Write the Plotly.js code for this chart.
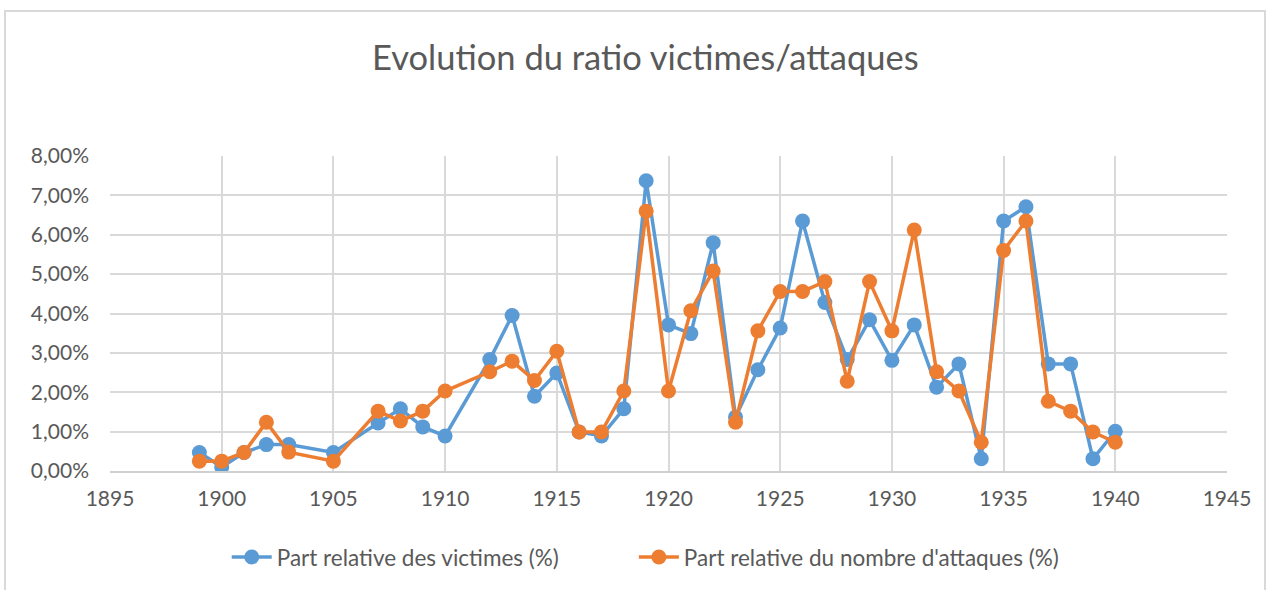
<!DOCTYPE html>
<html>
<head>
<meta charset="utf-8">
<script src="https://cdn.plot.ly/plotly-3.0.1.min.js"></script>
<style>
  html, body { margin: 0; padding: 0; background: #fff; }
  #chart { position: absolute; left: 0; top: 0; width: 1268px; height: 590px; }
  #frame { position: absolute; left: 4px; top: 10px; width: 1262px; height: 590px;
           border: 2px solid #d9d9d9; box-sizing: border-box; pointer-events: none; }
</style>
</head>
<body>
<div id="chart"></div>
<div id="frame"></div>
<script>
// Years (1904, 1906, 1911 absent)
const years = [1899, 1900, 1901, 1902, 1903, 1905, 1907, 1908, 1909, 1910,
               1912, 1913, 1914, 1915, 1916, 1917, 1918, 1919, 1920, 1921,
               1922, 1923, 1924, 1925, 1926, 1927, 1928, 1929, 1930, 1931,
               1932, 1933, 1934, 1935, 1936, 1937, 1938, 1939, 1940];

// Part relative des victimes (%)
const victimes = [0.47, 0.10, 0.47, 0.67, 0.67, 0.47, 1.22, 1.58, 1.12, 0.89,
                  2.83, 3.95, 1.90, 2.49, 0.99, 0.89, 1.58, 7.37, 3.71, 3.49,
                  5.80, 1.37, 2.57, 3.63, 6.35, 4.28, 2.83, 3.84, 2.81, 3.71,
                  2.13, 2.72, 0.31, 6.35, 6.71, 2.72, 2.72, 0.31, 1.01];

// Part relative du nombre d'attaques (%)
const attaques = [0.25, 0.25, 0.47, 1.24, 0.48, 0.25, 1.52, 1.27, 1.52, 2.03,
                  2.52, 2.79, 2.30, 3.04, 0.99, 0.99, 2.03, 6.60, 2.03, 4.07,
                  5.08, 1.24, 3.56, 4.56, 4.56, 4.81, 2.28, 4.81, 3.56, 6.12,
                  2.52, 2.03, 0.73, 5.60, 6.35, 1.77, 1.52, 0.99, 0.73];

const seriesNames = ["Part relative des victimes (%)", "Part relative du nombre d'attaques (%)"];
const titleText = "Evolution du ratio victimes/attaques";

const FONT = "Lato, 'Open Sans', sans-serif";
const GREY = "#595959";

const traces = [
  {
    x: years, y: victimes, name: seriesNames[0], type: "scatter", mode: "lines+markers",
    line: { color: "#5B9BD5", width: 3.5 },
    marker: { color: "#5B9BD5", size: 15 },
    legend: "legend"
  },
  {
    x: years, y: attaques, name: seriesNames[1], type: "scatter", mode: "lines+markers",
    line: { color: "#ED7D31", width: 3.5 },
    marker: { color: "#ED7D31", size: 15 },
    legend: "legend2"
  }
];

const legendBase = {
  orientation: "h", xanchor: "left", y: -0.27, yanchor: "middle",
  font: { family: FONT, size: 22.5, color: GREY },
  itemwidth: 40, bgcolor: "rgba(0,0,0,0)"
};

const layout = {
  width: 1268, height: 590,
  paper_bgcolor: "rgba(0,0,0,0)", plot_bgcolor: "#fff",
  margin: { l: 110, r: 41, t: 156, b: 118 },
  separators: ", ",
  font: { family: FONT, color: GREY, size: 21 },
  title: {
    text: titleText,
    font: { family: FONT, size: 34.5, color: GREY },
    xref: "container", x: 0.509, xanchor: "center",
    yref: "container", y: 0.902, yanchor: "middle"
  },
  xaxis: {
    range: [1895, 1945], tick0: 1895, dtick: 5,
    showgrid: true, gridcolor: "#d9d9d9", gridwidth: 2,
    showline: true, linecolor: "#d0d0d0", linewidth: 2,
    zeroline: false, ticks: "", ticklabelstandoff: 8,
    tickfont: { family: FONT, size: 21, color: GREY }
  },
  yaxis: {
    range: [0, 8], tick0: 0, dtick: 1,
    tickformat: ".2f", ticksuffix: "%",
    showgrid: true, gridcolor: "#d9d9d9", gridwidth: 2,
    zeroline: false, ticks: "", ticklabelstandoff: 20,
    tickfont: { family: FONT, size: 21, color: GREY }
  },
  showlegend: true,
  legend: Object.assign({}, legendBase, { x: 0.1045 }),
  legend2: Object.assign({}, legendBase, { x: 0.469 })
};

Plotly.newPlot("chart", traces, layout, { displayModeBar: false, staticPlot: true });
</script>
</body>
</html>
